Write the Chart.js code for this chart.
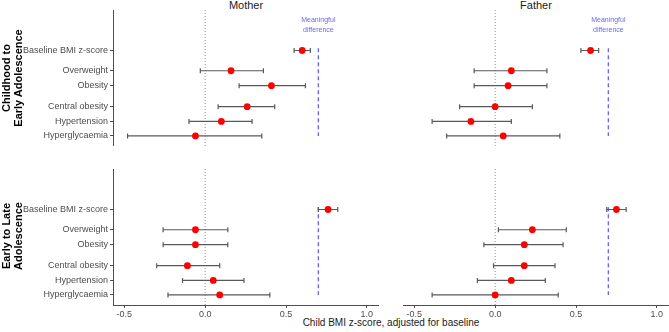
<!DOCTYPE html>
<html>
<head>
<meta charset="utf-8">
<script src="https://cdn.jsdelivr.net/npm/chart.js@4.4.1/dist/chart.umd.min.js"></script>
<style>
  html, body { margin: 0; padding: 0; background: #fff; }
  body { width: 669px; height: 332px; position: relative; overflow: hidden; font-family: "Liberation Sans", Arial, sans-serif; }
  .box { position: absolute; }
  .strip { position: absolute; font-size: 11px; color: #1a1a1a; transform: translateX(-50%); white-space: nowrap; }
  .facet { position: absolute; font-size: 11px; font-weight: bold; color: #000; text-align: center; line-height: 12px;
           transform: translate(-50%, -50%) rotate(-90deg); white-space: nowrap; z-index: 2; }
  .xtitle { position: absolute; font-size: 10px; color: #1a1a1a; transform: translateX(-50%); white-space: nowrap; }
</style>
</head>
<body>
<div class="strip" style="left:246px; top:-1px;">Mother</div>
<div class="strip" style="left:536px; top:-1px;">Father</div>
<div class="facet" style="left:12px; top:78px;">Childhood to<br>Early Adolescence</div>
<div class="facet" style="left:12px; top:236px;">Early to Late<br>Adolescence</div>
<div class="xtitle" style="left:391px; top:317px;">Child BMI z-score, adjusted for baseline</div>

<div class="box" style="left:0px; top:10px; width:379px; height:136px;"><canvas id="cTL"></canvas></div>
<div class="box" style="left:403px; top:10px; width:266px; height:136px;"><canvas id="cTR"></canvas></div>
<div class="box" style="left:0px; top:169px; width:379px; height:156px;"><canvas id="cBL"></canvas></div>
<div class="box" style="left:403px; top:169px; width:266px; height:156px;"><canvas id="cBR"></canvas></div>

<script>
// rows (top to bottom) and their vertical positions
const rowLabels = ['Baseline BMI z-score', 'Overweight', 'Obesity', 'Central obesity', 'Hypertension', 'Hyperglycaemia'];
const rowPos = [6.7, 5.35, 4.35, 2.95, 1.97, 1];
const yMin = 0.33, yMax = 9.4;

const xTicks = [-0.5, 0, 0.5, 1.0];
const xMin = -0.57, xMax = 1.075;
const meaningful = 0.7;

// Childhood to Early Adolescence
const motherEarlyEst = [0.60, 0.16, 0.41, 0.26, 0.10, -0.06];
const motherEarlyLo  = [0.55, -0.03, 0.21, 0.08, -0.10, -0.48];
const motherEarlyHi  = [0.65, 0.36, 0.62, 0.43, 0.29, 0.35];

const fatherEarlyEst = [0.59, 0.10, 0.08, 0.00, -0.15, 0.05];
const fatherEarlyLo  = [0.53, -0.13, -0.13, -0.22, -0.39, -0.30];
const fatherEarlyHi  = [0.64, 0.32, 0.32, 0.23, 0.10, 0.40];

// Early to Late Adolescence
const motherLateEst = [0.76, -0.06, -0.06, -0.11, 0.05, 0.09];
const motherLateLo  = [0.70, -0.26, -0.26, -0.30, -0.14, -0.23];
const motherLateHi  = [0.82, 0.14, 0.14, 0.09, 0.24, 0.40];

const fatherLateEst = [0.75, 0.23, 0.18, 0.18, 0.10, 0.00];
const fatherLateLo  = [0.69, 0.02, -0.07, -0.01, -0.11, -0.39];
const fatherLateHi  = [0.81, 0.44, 0.42, 0.37, 0.31, 0.39];

const axisGrey = '#4d4d4d';
const barGrey = '#595959';
const refBlue = '#6a6aee';

// error bars drawn just before the point dataset
const errorBars = {
  id: 'errorBars',
  beforeDatasetDraw(chart, args, opts) {
    if (args.index !== 0) return;
    const { ctx, scales: { x, y } } = chart;
    ctx.save();
    ctx.strokeStyle = barGrey;
    ctx.lineWidth = 1.2;
    opts.lo.forEach((lo, i) => {
      const py = y.getPixelForValue(rowPos[i]);
      const x0 = x.getPixelForValue(lo), x1 = x.getPixelForValue(opts.hi[i]);
      ctx.beginPath();
      ctx.moveTo(x0, py); ctx.lineTo(x1, py);
      ctx.moveTo(x0, py - 2.5); ctx.lineTo(x0, py + 2.5);
      ctx.moveTo(x1, py - 2.5); ctx.lineTo(x1, py + 2.5);
      ctx.stroke();
    });
    ctx.restore();
  }
};

// "Meaningful difference" note above the dashed line
const noteLabel = {
  id: 'noteLabel',
  afterDraw(chart, args, opts) {
    if (!opts.show) return;
    const { ctx, scales: { x }, chartArea } = chart;
    const px = x.getPixelForValue(meaningful);
    ctx.save();
    ctx.fillStyle = refBlue;
    ctx.font = '7px "Liberation Sans", Arial, sans-serif';
    ctx.textAlign = 'center';
    ctx.textBaseline = 'middle';
    ctx.fillText('Meaningful', px, chartArea.top + 10);
    ctx.fillText('difference', px, chartArea.top + 20);
    ctx.restore();
  }
};

function makePanel(id, est, lo, hi, showY, showX, showNote) {
  new Chart(document.getElementById(id), {
    type: 'scatter',
    data: {
      datasets: [
        {
          data: rowPos.map((p, i) => ({ x: est[i], y: p })),
          backgroundColor: '#ff0000', borderColor: '#ff0000', borderWidth: 0,
          pointRadius: 3.4, pointHoverRadius: 3.4
        },
        {
          type: 'line',
          data: [{ x: meaningful, y: rowPos[0] + 0.15 }, { x: meaningful, y: rowPos[5] }],
          borderColor: refBlue, borderWidth: 1.4, borderDash: [4, 3], pointRadius: 0
        },
        {
          type: 'line',
          data: [{ x: 0, y: yMin }, { x: 0, y: yMax }],
          borderColor: '#8c8c8c', borderWidth: 1, borderDash: [1, 2], pointRadius: 0
        }
      ]
    },
    options: {
      responsive: true,
      maintainAspectRatio: false,
      animation: false,
      layout: { padding: 0, autoPadding: false },
      plugins: {
        legend: { display: false },
        tooltip: { enabled: false },
        errorBars: { lo, hi },
        noteLabel: { show: showNote }
      },
      scales: {
        x: {
          type: 'linear', min: xMin, max: xMax,
          display: showX,
          afterBuildTicks: s => { s.ticks = xTicks.map(v => ({ value: v })); },
          afterFit: s => {
            if (!showX) return;
            s.height = 20; s.paddingLeft = 0; s.paddingRight = 0;
          },
          grid: { drawOnChartArea: false, drawTicks: true, tickLength: 3, color: axisGrey },
          border: { display: true, color: axisGrey, width: 1 },
          ticks: {
            color: axisGrey, padding: 1,
            font: { size: 9, family: '"Liberation Sans", Arial, sans-serif' },
            callback: v => v.toFixed(1)
          }
        },
        y: {
          type: 'linear', min: yMin, max: yMax,
          display: showY,
          afterBuildTicks: s => { s.ticks = rowPos.slice().sort((a, b) => a - b).map(v => ({ value: v })); },
          afterFit: s => {
            if (!showY) return;
            s.width = 113; s.paddingTop = 0; s.paddingBottom = 0;
          },
          grid: { drawOnChartArea: false, drawTicks: true, tickLength: 3, color: axisGrey },
          border: { display: true, color: axisGrey, width: 1 },
          ticks: {
            color: axisGrey, padding: 2,
            font: { size: 9, family: '"Liberation Sans", Arial, sans-serif' },
            callback: v => rowLabels[rowPos.indexOf(v)]
          }
        }
      }
    },
    plugins: [errorBars, noteLabel]
  });
}

makePanel('cTL', motherEarlyEst, motherEarlyLo, motherEarlyHi, true, false, true);
makePanel('cTR', fatherEarlyEst, fatherEarlyLo, fatherEarlyHi, false, false, true);
makePanel('cBL', motherLateEst, motherLateLo, motherLateHi, true, true, false);
makePanel('cBR', fatherLateEst, fatherLateLo, fatherLateHi, false, true, false);
</script>
</body>
</html>
